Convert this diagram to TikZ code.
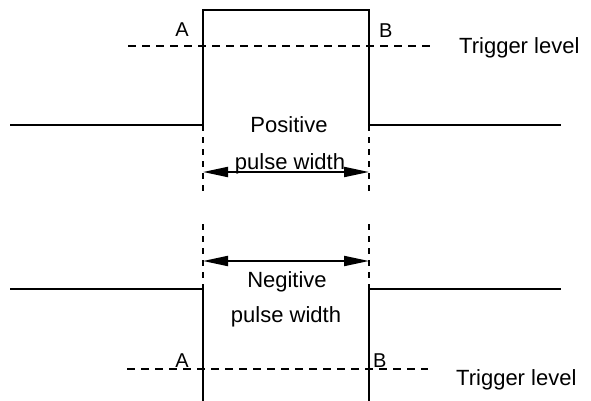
\documentclass[tikz,border=0pt]{standalone}
\usepackage{fontspec}
\setmainfont{Liberation Sans}
\usetikzlibrary{arrows.meta}

\begin{document}
\begin{tikzpicture}[x=1pt, y=-1pt,
  wave/.style={line width=2pt},
  trig/.style={line width=1.5pt, dash pattern=on 8pt off 6pt},
  edge/.style={line width=1.5pt, dash pattern=on 6pt off 6pt},
  width/.style={line width=2pt, {Triangle[length=25pt,width=10pt]}-{Triangle[length=25pt,width=10pt]}},
  lbl/.style={font=\fontsize{22}{24}\selectfont, inner sep=0pt},
  pt/.style={font=\fontsize{20}{22}\selectfont, inner sep=0pt}]
  \useasboundingbox (0,0) rectangle (591,401);
  % Positive pulse
  \coordinate (ua) at (203,125);
  \coordinate (ub) at (369,125);
  \draw[wave] (10,125) -- (ua) -- (203,10) -- (369,10) -- (ub) -- (561,125);
  \draw[trig] (128,46) -- (430,46);
  \node[pt, anchor=base east] (a1) at (189,37) {A};
  \node[pt, anchor=base west] (b1) at (379,38) {B};
  \node[lbl, anchor=base west] (t1) at (459,54) {Trigger level};
  \draw[edge] (ua) -- (203,195);
  \draw[edge] (ub) -- (369,195);
  \coordinate (pa) at (203,172);
  \coordinate (pb) at (369,172);
  \draw[width] (pa) -- (pb);
  \node[lbl, anchor=base] (pos) at (289,132) {Positive};
  \node[lbl, anchor=base] (posw) at (290,169) {pulse width};
  % Negitive pulse
  \coordinate (la) at (203,289);
  \coordinate (lb) at (369,289);
  \draw[wave] (10,289) -- (la) -- (203,401);
  \draw[wave] (369,401) -- (lb) -- (561,289);
  \draw[trig] (127,369) -- (428,369);
  \node[pt, anchor=base east] (a2) at (189,367) {A};
  \node[pt, anchor=base west] (b2) at (373,367) {B};
  \node[lbl, anchor=base west] (t2) at (456,385) {Trigger level};
  \draw[edge] (203,224) -- (la);
  \draw[edge] (369,224) -- (lb);
  \coordinate (na) at (203,261);
  \coordinate (nb) at (369,261);
  \draw[width] (na) -- (nb);
  \node[lbl, anchor=base] (neg) at (287,287) {Negitive};
  \node[lbl, anchor=base] (negw) at (286,322) {pulse width};
\end{tikzpicture}
\end{document}
